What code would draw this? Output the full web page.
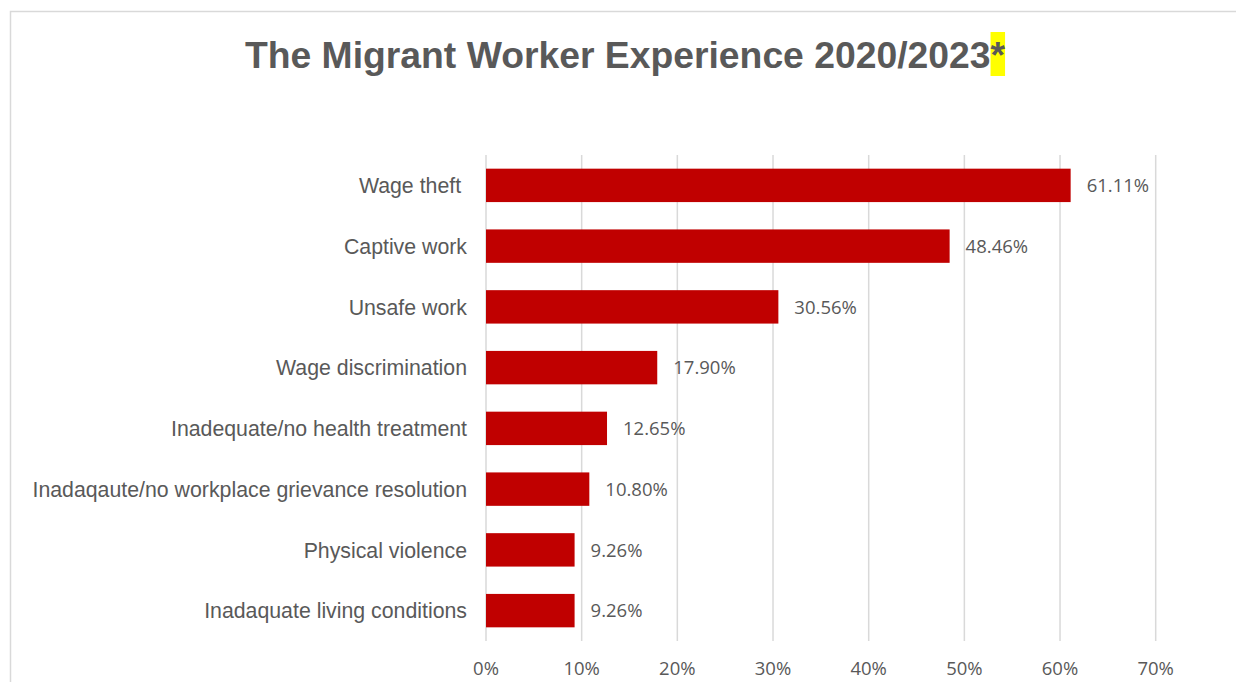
<!DOCTYPE html>
<html>
<head>
<meta charset="utf-8">
<script src="https://cdn.jsdelivr.net/npm/d3@7"></script>
<style>
  body { margin: 0; background: #fff; }
  svg { display: block; }
  .cat { font-family: 'Liberation Sans', Arial, sans-serif; font-size: 21.3px; fill: #595959; }
  .val, .tick-label { font-family: 'Open Sans', 'Noto Sans', sans-serif; font-size: 18.5px; fill: #595959; }
</style>
</head>
<body>
<div id="chart"></div>
<script>
// CONST and GLOBALS
let width = 1236;
let height = 682;
let margin = { top: 155, bottom: 41, left: 486, right: 80 };

// data
let categories = [
  'Wage theft ',
  'Captive work',
  'Unsafe work',
  'Wage discrimination',
  'Inadequate/no health treatment',
  'Inadaqaute/no workplace grievance resolution',
  'Physical violence',
  'Inadaquate living conditions',
];
let values = [61.11, 48.46, 30.56, 17.9, 12.65, 10.8, 9.26, 9.26];
let xTicks = [0, 10, 20, 30, 40, 50, 60, 70];
let titleText = 'The Migrant Worker Experience 2020/2023';

let data = categories.map((c, i) => ({ name: c, value: values[i] }));

let svg = d3
  .select('#chart')
  .append('svg')
  .attr('width', width)
  .attr('height', height);

// chart frame (runs past the right and bottom edge of the picture)
svg
  .append('rect')
  .attr('x', 10.5)
  .attr('y', 11.5)
  .attr('width', 1260)
  .attr('height', 720)
  .attr('fill', 'none')
  .attr('stroke', '#d9d9d9')
  .attr('stroke-width', 1.5);

let xScale = d3
  .scaleLinear()
  .domain([0, 70])
  .range([margin.left, 1155.7]);

let yScale = d3
  .scaleBand()
  .domain(categories)
  .range([margin.top, height - margin.bottom])
  .paddingInner(0.45)
  .paddingOuter(0.225);

// grid lines
svg
  .append('g')
  .attr('class', 'grid-lines')
  .selectAll('line')
  .data(xTicks)
  .join('line')
  .attr('x1', d => xScale(d))
  .attr('x2', d => xScale(d))
  .attr('y1', margin.top)
  .attr('y2', height - margin.bottom)
  .attr('stroke', '#d9d9d9')
  .attr('stroke-width', 1.5);

// tick labels
svg
  .append('g')
  .selectAll('text')
  .data(xTicks)
  .join('text')
  .attr('class', 'tick-label')
  .attr('x', d => xScale(d))
  .attr('y', 675)
  .attr('text-anchor', 'middle')
  .text(d => d + '%');

// bars
svg
  .selectAll('.bar')
  .data(data)
  .join('rect')
  .attr('class', 'bar')
  .attr('x', xScale(0))
  .attr('y', d => yScale(d.name))
  .attr('width', d => xScale(d.value) - xScale(0))
  .attr('height', yScale.bandwidth())
  .attr('fill', '#c00000');

// value labels
svg
  .selectAll('.val')
  .data(data)
  .join('text')
  .attr('class', 'val')
  .attr('x', d => xScale(d.value) + 16)
  .attr('y', d => yScale(d.name) + yScale.bandwidth() / 2)
  .attr('dy', '0.36em')
  .text(d => d.value.toFixed(2) + '%');

// category labels
svg
  .selectAll('.cat')
  .data(data)
  .join('text')
  .attr('class', 'cat')
  .attr('x', margin.left - 19)
  .attr('y', d => yScale(d.name) + yScale.bandwidth() / 2)
  .attr('dy', '0.36em')
  .attr('text-anchor', 'end')
  .attr('xml:space', 'preserve')
  .style('white-space', 'pre')
  .text(d => d.name);

// title, with the highlighted asterisk
let highlight = svg.append('rect').attr('fill', '#ffff00');
let title = svg
  .append('text')
  .attr('x', 625)
  .attr('y', 68)
  .attr('text-anchor', 'middle')
  .attr('font-family', "'Liberation Sans', Arial, sans-serif")
  .attr('font-weight', 'bold')
  .attr('font-size', 37.3)
  .attr('fill', '#595959');
title.append('tspan').text(titleText);
title.append('tspan').text('*');

let node = title.node();
let n = node.getNumberOfChars();
let start = node.getStartPositionOfChar(n - 1);
let end = node.getEndPositionOfChar(n - 1);
highlight
  .attr('x', start.x)
  .attr('y', 32)
  .attr('width', end.x - start.x)
  .attr('height', 44);
</script>
</body>
</html>
